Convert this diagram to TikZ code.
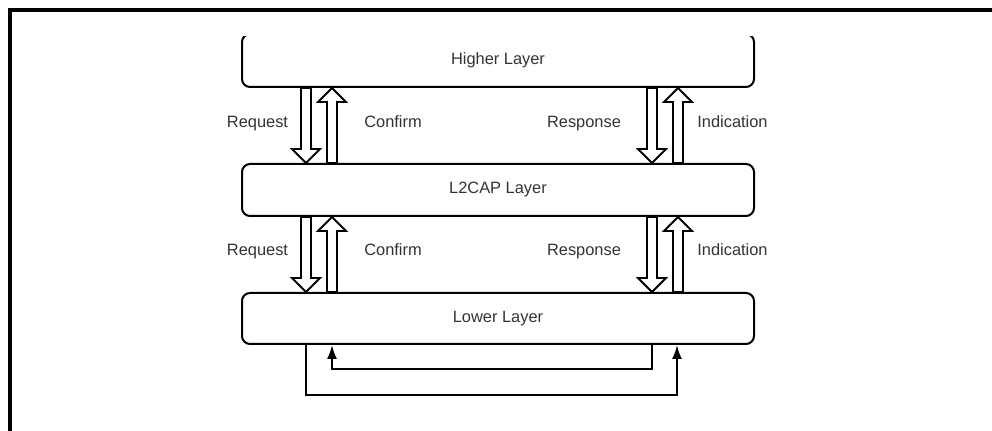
\documentclass[tikz,border=0pt]{standalone}
\usepackage{fontspec}
\setmainfont{Liberation Sans}
\usetikzlibrary{calc,arrows.meta}
\tikzset{
  txt/.style={font=\fontsize{8.2}{10}\selectfont, text=black!80},
  lbl/.style={txt, anchor=base},
  layer/.style={draw, line width=1pt, rounded corners=4pt, minimum width=256pt, txt},
  hollow/.style={draw, fill=white, line width=0.9pt, line join=miter},
  fb/.style={line width=1pt, -{Latex[length=7pt,width=5pt]}},
  frameline/.style={line width=2pt}
}
% #1 x, #2 upper anchor, #3 lower anchor
\newcommand\hollowdown[3]{%
  \draw[hollow] (#1-5,0 |- #2) -- ($(#1-5,0 |- #3)+(0,-14)$) -- ($(#1-14,0 |- #3)+(0,-14)$)
    -- (#1,0 |- #3) -- ($(#1+14,0 |- #3)+(0,-14)$) -- ($(#1+5,0 |- #3)+(0,-14)$)
    -- (#1+5,0 |- #2) -- cycle;}
% #1 x, #2 lower anchor, #3 upper anchor
\newcommand\hollowup[3]{%
  \draw[hollow] (#1-5,0 |- #2) -- ($(#1-5,0 |- #3)+(0,14)$) -- ($(#1-14,0 |- #3)+(0,14)$)
    -- (#1,0 |- #3) -- ($(#1+14,0 |- #3)+(0,14)$) -- ($(#1+5,0 |- #3)+(0,14)$)
    -- (#1+5,0 |- #2) -- cycle;}
\begin{document}
\begin{tikzpicture}[x=0.5pt,y=-0.5pt]
\useasboundingbox (0,0) rectangle (992,431);
\draw[frameline] (10,433) -- (10,10) -- (994,10);

\begin{scope}
  \clip (0,37) rectangle (992,431);
  \node[layer, minimum height=26.5pt] (hi) at (498,60.5) {\raisebox{1pt}{Higher Layer}};
\end{scope}
\node[layer, minimum height=26pt] (l2) at (498,190) {\raisebox{2pt}{L2CAP Layer}};
\node[layer, minimum height=25.5pt] (lo) at (498,318.5) {Lower Layer};

% labels
\node[lbl] (rq1) at (257.5,128) {Request};
\node[lbl] (cf1) at (393,128) {Confirm};
\node[lbl] (rs1) at (584,128) {Response};
\node[lbl] (in1) at (732.5,128) {Indication};
\node[lbl] (rq2) at (257.5,256) {Request};
\node[lbl] (cf2) at (393,256) {Confirm};
\node[lbl] (rs2) at (584,256) {Response};
\node[lbl] (in2) at (732.5,256) {Indication};

% hollow arrows
\hollowdown{306}{hi.south}{l2.north}
\hollowup{332}{l2.north}{hi.south}
\hollowdown{652}{hi.south}{l2.north}
\hollowup{678}{l2.north}{hi.south}
\hollowdown{306}{l2.south}{lo.north}
\hollowup{332}{lo.north}{l2.south}
\hollowdown{652}{l2.south}{lo.north}
\hollowup{678}{lo.north}{l2.south}

% feedback loops
\coordinate (c1) at (306,395);
\coordinate (c2) at (677,395);
\coordinate (c3) at (652,369);
\coordinate (c4) at (332,369);
\draw[fb] (306,0 |- lo.south) -- (c1) -- (c2) -- (677,0 |- lo.south);
\draw[fb] (652,0 |- lo.south) -- (c3) -- (c4) -- (332,0 |- lo.south);
\end{tikzpicture}
\end{document}
